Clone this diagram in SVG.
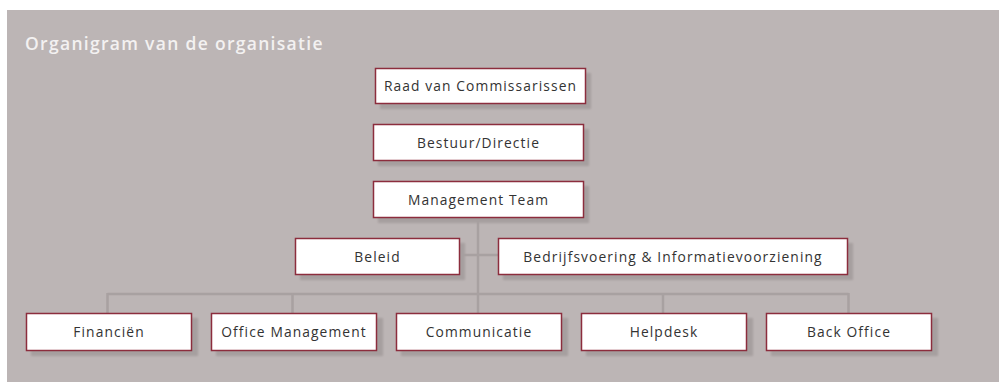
<svg xmlns="http://www.w3.org/2000/svg" width="999" height="382" viewBox="0 0 999 382">
  <defs>
    <filter id="soft" x="-10%" y="-20%" width="120%" height="140%">
      <feGaussianBlur stdDeviation="0.8"/>
    </filter>
    <style>
      .panel { fill: #bcb5b5; }
      .title { font-family: "Open Sans", "Liberation Sans", sans-serif; font-size: 17.5px; font-weight: 600; fill: #f3f1f1; letter-spacing: 1.3px; }
      .shadow { fill: #a69f9f; filter: url(#soft); }
      .box { fill: #ffffff; stroke: #8c2d3d; stroke-width: 1.5; }
      .label { font-family: "Open Sans", "Liberation Sans", sans-serif; font-size: 13.8px; fill: #333333; letter-spacing: 1.1px; text-anchor: middle; }
      .link { stroke: #a8a1a1; stroke-width: 2.5; fill: none; }
    </style>
  </defs>

  <!-- background panel -->
  <rect class="panel" x="7" y="10" width="992" height="372"/>
  <text class="title" x="25" y="50">Organigram van de organisatie</text>

  <!-- connectors -->
  <g id="connectors">
    <line class="link" x1="478" y1="218" x2="478" y2="294"/>
    <line class="link" x1="460" y1="255" x2="498" y2="255"/>
    <line class="link" x1="107.5" y1="294" x2="848.5" y2="294"/>
    <line class="link" x1="107.5" y1="293" x2="107.5" y2="313"/>
    <line class="link" x1="292.5" y1="293" x2="292.5" y2="313"/>
    <line class="link" x1="478" y1="293" x2="478" y2="313"/>
    <line class="link" x1="663" y1="293" x2="663" y2="313"/>
    <line class="link" x1="848.5" y1="293" x2="848.5" y2="313"/>
  </g>

  <g id="raad">
    <rect class="shadow" x="380" y="73" width="211" height="36"/>
    <rect class="box" x="375.5" y="68.5" width="210" height="35"/>
    <text class="label" x="480.5" y="91">Raad van Commissarissen</text>
  </g>

  <g id="bestuur">
    <rect class="shadow" x="378" y="129" width="211" height="37"/>
    <rect class="box" x="373.5" y="124.5" width="210" height="36"/>
    <text class="label" x="478.5" y="147.5">Bestuur/Directie</text>
  </g>

  <g id="management-team">
    <rect class="shadow" x="378" y="186" width="211" height="37"/>
    <rect class="box" x="373.5" y="181.5" width="210" height="36"/>
    <text class="label" x="478.5" y="204.5">Management Team</text>
  </g>

  <g id="beleid">
    <rect class="shadow" x="300" y="243" width="165" height="37"/>
    <rect class="box" x="295.5" y="238.5" width="164" height="36"/>
    <text class="label" x="377.5" y="261.5">Beleid</text>
  </g>

  <g id="bedrijfsvoering">
    <rect class="shadow" x="503" y="243" width="350" height="37"/>
    <rect class="box" x="498.5" y="238.5" width="349" height="36"/>
    <text class="label" x="673" y="261.5">Bedrijfsvoering &amp; Informatievoorziening</text>
  </g>

  <g id="financien">
    <rect class="shadow" x="31" y="318" width="167" height="38"/>
    <rect class="box" x="26.5" y="313.5" width="165" height="37"/>
    <text class="label" x="109" y="337">Financiën</text>
  </g>

  <g id="office-management">
    <rect class="shadow" x="216" y="318" width="167" height="38"/>
    <rect class="box" x="211.5" y="313.5" width="165" height="37"/>
    <text class="label" x="294" y="337">Office Management</text>
  </g>

  <g id="communicatie">
    <rect class="shadow" x="401" y="318" width="167" height="38"/>
    <rect class="box" x="396.5" y="313.5" width="165" height="37"/>
    <text class="label" x="479" y="337">Communicatie</text>
  </g>

  <g id="helpdesk">
    <rect class="shadow" x="586" y="318" width="167" height="38"/>
    <rect class="box" x="581.5" y="313.5" width="165" height="37"/>
    <text class="label" x="664" y="337">Helpdesk</text>
  </g>

  <g id="back-office">
    <rect class="shadow" x="771" y="318" width="167" height="38"/>
    <rect class="box" x="766.5" y="313.5" width="165" height="37"/>
    <text class="label" x="849" y="337">Back Office</text>
  </g>
</svg>
